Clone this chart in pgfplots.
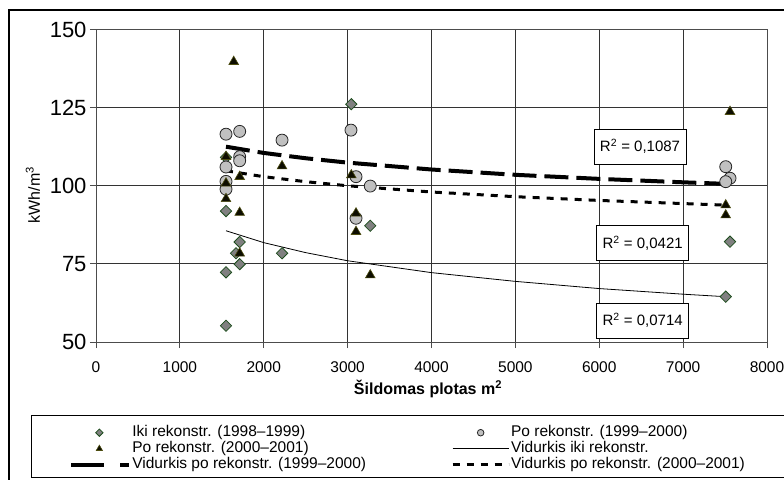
\documentclass[border=0pt]{standalone}
\usepackage{fontspec}
\setmainfont{Liberation Sans}
\usepackage{pgfplots}
\pgfplotsset{compat=1.18}
\definecolor{diafill}{HTML}{808080}
\definecolor{diadraw}{HTML}{1E4D1E}
\definecolor{cirfill}{HTML}{C0C0C0}
\definecolor{trifill}{HTML}{0D0D00}
\definecolor{tridraw}{HTML}{4D4D10}
\pgfplotsset{
  marklegend/.style={legend image code/.code={\path[draw=none,fill=none] (0bp,0bp) -- (56bp,0bp); \draw[##1, mark size=#1] plot coordinates {(28bp,0bp)};}},
  linelegend/.style={legend image code/.code={\draw[##1] (0bp,0bp) -- (56bp,0bp);}},
  biglegend/.style={legend image code/.code={\draw[##1, dash pattern=on 33bp off 16bp] (0bp,0bp) -- (58bp,0bp);}},
}
\begin{document}
\begin{tikzpicture}
\useasboundingbox (0,0) rectangle (784bp,-480bp);
\draw[line width=1.2bp] (9bp,-500bp) -- (9bp,-10bp) -- (800bp,-10bp);
\draw[line width=1bp] (31bp,-415bp) rectangle (800bp,-477bp);
\begin{axis}[
  at={(96bp,-342bp)}, anchor=south west,
  scale only axis, width=671bp, height=312.5bp,
  xmin=0, xmax=8000, ymin=50, ymax=150,
  xtick={0,1000,...,8000}, ytick={50,75,...,150},
  grid=major, grid style={black!80, line width=0.8bp},
  axis line style={black!70, line width=0.8bp},
  tick align=outside, tick pos=left, major tick length=6bp,
  tick style={black!70, line width=0.8bp},
  /pgf/number format/assume math mode=true,
  /pgf/number format/1000 sep={},
  yticklabel style={font=\fontsize{22bp}{24bp}\selectfont},
  xticklabel style={font=\fontsize{15.5bp}{18bp}\selectfont, yshift=-10bp},
  legend columns=2,
  legend style={draw=none, fill=none, at={(-0.040,-0.264)}, anchor=north west,
    inner sep=0pt, font=\fontsize{15.5bp}{16bp}\selectfont,
    nodes={text height=11bp, text depth=4bp, inner ysep=0.5bp, inner xsep=1bp},
    /tikz/every even column/.append style={column sep=84bp},
    cells={anchor=west}},
]
% Iki rekonstr. (1998-1999)
\addplot[only marks, mark=square*, mark size=4bp,
  mark options={rotate=45, fill=diafill, draw=diadraw, line width=0.8bp},
  marklegend=2.6bp]
coordinates {
(1550,109.1) (1550,91.9) (1713,82.0) (1669,78.4) (1713,74.9) (2218,78.4)
(1550,72.3) (1550,55.2) (3044,126.1) (3270,87.2) (7559,82.1) (7508,64.5)
(1550,101.0)
};
\addlegendentry{Iki rekonstr. (1998--1999)}
% Po rekonstr. (1999-2000)
\addplot[only marks, mark=*, mark size=6bp,
  mark options={fill=cirfill, draw=black!85, line width=0.8bp},
  marklegend=3.3bp]
coordinates {
(1550,116.5) (1713,117.4) (2218,114.6) (1713,109.3) (1713,108.0) (1550,106.0)
(1550,101.4) (1550,98.9) (3040,117.8) (3100,102.9) (3270,99.9) (3100,89.6)
(7508,106.1) (7559,102.4) (7508,101.3)
};
\addlegendentry{Po rekonstr. (1999--2000)}
% Po rekonstr. (2000-2001)
\addplot[only marks, mark=triangle*, mark size=5.6bp,
  mark options={fill=trifill, draw=tridraw, line width=0.6bp},
  marklegend=3.6bp]
coordinates {
(1642,139.7) (1550,109.3) (1713,102.9) (1550,100.8) (1550,95.8) (1713,91.4)
(1713,78.4) (2218,106.3) (3044,103.4) (3100,91.2) (3100,85.3) (3270,71.4)
(7559,123.7) (7508,93.8) (7508,90.6)
};
\addlegendentry{Po rekonstr. (2000--2001)}
% Vidurkis iki rekonstr.
\addplot[black, line width=0.8bp, linelegend] coordinates {
(1550,85.6) (2000,81.8) (2500,78.6) (3000,76.0) (4000,72.2) (5000,69.4)
(6000,67.1) (7000,65.3) (7508,64.5)
};
\addlegendentry{Vidurkis iki rekonstr.}
% Vidurkis po rekonstr. (1999-2000)
\addplot[black, line width=4bp, dash pattern=on 24bp off 8bp, biglegend] coordinates {
(1550,112.5) (2000,110.5) (2500,108.8) (3000,107.4) (4000,105.2) (5000,103.5)
(6000,102.2) (7000,101.1) (7520,100.6)
};
\addlegendentry{Vidurkis po rekonstr. (1999--2000)}
% Vidurkis po rekonstr. (2000-2001)
\addplot[black, line width=3bp, dash pattern=on 7bp off 7bp, linelegend] coordinates {
(1550,104.8) (2000,102.9) (2500,101.3) (3000,100.0) (4000,98.0) (5000,96.5)
(6000,95.3) (7000,94.3) (7508,93.8)
};
\addlegendentry{Vidurkis po rekonstr. (2000--2001)}
\end{axis}
\node[draw, fill=white, minimum width=92bp, minimum height=35bp, inner sep=0pt,
  line width=0.8bp, font=\fontsize{15bp}{18bp}\selectfont] at (640bp,-146.5bp) {R\textsuperscript{2} = 0,1087};
\node[draw, fill=white, minimum width=92bp, minimum height=35bp, inner sep=0pt,
  line width=0.8bp, font=\fontsize{15bp}{18bp}\selectfont] at (642.7bp,-243.3bp) {R\textsuperscript{2} = 0,0421};
\node[draw, fill=white, minimum width=92bp, minimum height=35bp, inner sep=0pt,
  line width=0.8bp, font=\fontsize{15bp}{18bp}\selectfont] at (642.7bp,-320.5bp) {R\textsuperscript{2} = 0,0714};
\node[font=\bfseries\fontsize{16bp}{19bp}\selectfont] at (428bp,-389bp) {Šildomas plotas m\textsuperscript{2}};
\node[rotate=90, font=\fontsize{16bp}{18bp}\selectfont] at (33bp,-195bp) {kWh/m\textsuperscript{3}};
\end{tikzpicture}
\end{document}
